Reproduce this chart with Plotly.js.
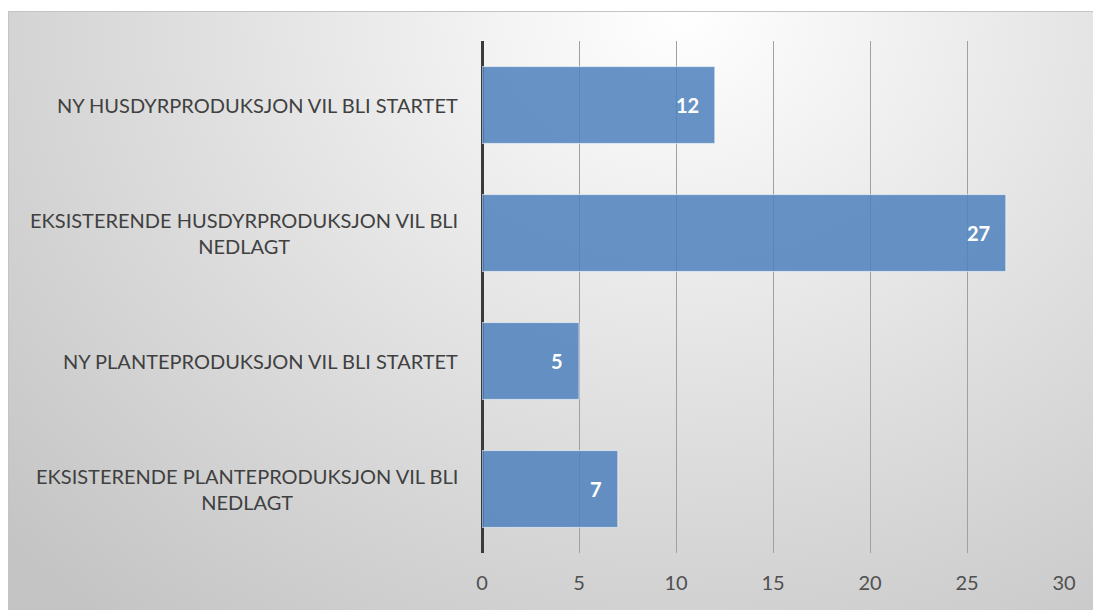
<!DOCTYPE html>
<html>
<head>
<meta charset="utf-8">
<script src="https://cdn.plot.ly/plotly-3.0.1.min.js"></script>
<style>
  html, body { margin:0; padding:0; width:1093px; height:610px; background:#ffffff; overflow:hidden; }
  #bg { position:absolute; left:8px; top:11px; width:1085px; height:599px;
        border-top:1px solid #c4c4c4; border-left:1px solid #c4c4c4; box-sizing:border-box;
        background: radial-gradient(ellipse 85% 130% at 62% 0%, #ffffff 0%, #f3f3f3 20%, #dedede 55%, #c4c4c4 100%); }
  #chart { position:absolute; left:0; top:0; width:1093px; height:610px; }
</style>
</head>
<body>
<div id="bg"></div>
<div id="chart"></div>
<script>
const categories = [
  "NY HUSDYRPRODUKSJON VIL BLI STARTET",
  "EKSISTERENDE HUSDYRPRODUKSJON VIL BLI<br>NEDLAGT",
  "NY PLANTEPRODUKSJON VIL BLI STARTET",
  "EKSISTERENDE PLANTEPRODUKSJON VIL BLI<br>NEDLAGT"
];
const values = [12, 27, 5, 7];
const xTicks = [0, 5, 10, 15, 20, 25, 30];

const fontFam = "Lato, 'Open Sans', sans-serif";

const trace = {
  type: 'bar',
  orientation: 'h',
  y: categories,
  x: values,
  width: 0.6,
  marker: { color: 'rgba(79,129,189,0.86)', line: { color: 'rgba(255,255,255,0.6)', width: 1 } },
  hoverinfo: 'x+y'
};

const annotations = [];
categories.forEach((c, i) => {
  annotations.push({
    xref: 'paper', yref: 'y', x: 0, y: c, xanchor: 'right', yanchor: 'middle',
    xshift: -22, text: c, showarrow: false, align: 'center',
    font: { family: fontFam, size: 20, color: '#404040' }
  });
  annotations.push({
    xref: 'x', yref: 'y', x: values[i], y: c, xanchor: 'right', yanchor: 'middle',
    xshift: -14, text: '<b>' + values[i] + '</b>', showarrow: false,
    font: { family: fontFam, size: 20, color: '#ffffff' }
  });
});

const layout = {
  width: 1093, height: 610,
  margin: { l: 482, r: 29, t: 41, b: 57, pad: 0 },
  paper_bgcolor: 'rgba(0,0,0,0)',
  plot_bgcolor: 'rgba(0,0,0,0)',
  showlegend: false,
  bargap: 0.4,
  xaxis: {
    range: [0, 30], tickvals: xTicks, ticktext: xTicks.map(String),
    showgrid: true, gridcolor: '#a0a0a0', gridwidth: 1,
    zeroline: true, zerolinecolor: '#3a3a3a', zerolinewidth: 3,
    showline: false, ticks: '', ticklabelstandoff: 16,
    tickfont: { family: fontFam, size: 20, color: '#505050' },
    fixedrange: true
  },
  yaxis: {
    type: 'category', autorange: 'reversed',
    showticklabels: false, showgrid: false, zeroline: false, showline: false, ticks: '',
    fixedrange: true
  },
  annotations: annotations
};

Plotly.newPlot('chart', [trace], layout, { displayModeBar: false, staticPlot: true });
</script>
</body>
</html>
